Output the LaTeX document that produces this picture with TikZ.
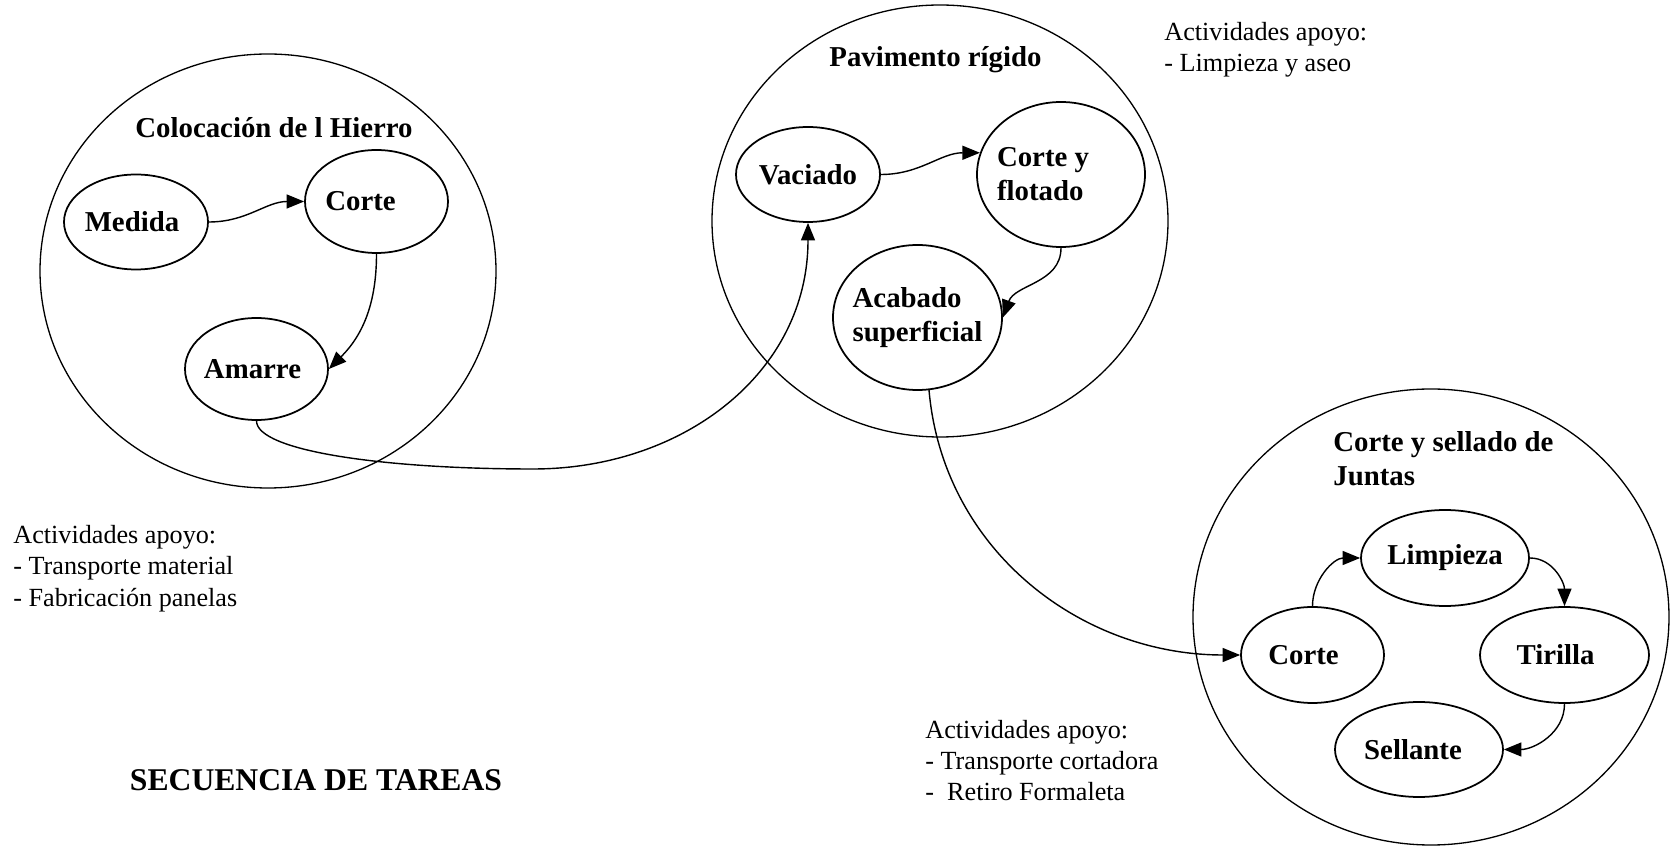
\documentclass[tikz,border=0pt]{standalone}
\usepackage{fontspec}
\setmainfont{Liberation Serif}
\usetikzlibrary{shapes.geometric,arrows.meta}

\newcommand{\tbold}{\fontsize{16.4}{19.3}\selectfont\bfseries}
\newcommand{\tnota}{\fontsize{14.9}{17.9}\selectfont}
\newcommand{\ttitulo}{\fontsize{18}{21}\selectfont\bfseries}

\begin{document}
\begin{tikzpicture}
    [ grupo/.style={ellipse, draw, line width=0.75pt, inner sep=0pt},
      tarea/.style 2 args={ellipse, draw, line width=1pt, inner sep=0pt, minimum width=#1, minimum height=#2},
      txt/.style={font=\tbold, align=left, inner sep=0pt},
      nota/.style={font=\tnota, align=left, inner sep=0pt, anchor=west},
      flecha/.style={-{Triangle[length=10pt,width=8pt]}, line width=0.8pt} ]

    \useasboundingbox (0,0) rectangle (33.42,16.94);

    % grupos
    \node[grupo, minimum width=9.12cm, minimum height=8.68cm] (hierro) at (5.36,11.52) {};
    \node[grupo, minimum width=9.12cm, minimum height=8.64cm] (pavimento) at (18.80,12.52) {};
    \node[grupo, minimum width=9.52cm, minimum height=9.12cm] (juntas) at (28.62,4.60) {};

    \node[txt, anchor=base] (thierro) at (5.48,14.18) {Colocación de l Hierro};
    \node[txt, anchor=base] (tpavimento) at (18.71,15.60) {Pavimento rígido};
    \node[txt, anchor=west] (tjuntas) at (26.66,7.76) {Corte y sellado de\\Juntas};

    % tareas
    \node[tarea={2.88cm}{1.90cm}, label={[txt, xshift=-0.08cm]center:Medida}] (medida) at (2.72,12.50) {};
    \node[tarea={2.86cm}{2.06cm}, label={[txt, xshift=-0.32cm]center:Corte}] (corte) at (7.53,12.91) {};
    \node[tarea={2.86cm}{2.04cm}, label={[txt, xshift=-0.08cm]center:Amarre}] (amarre) at (5.13,9.56) {};

    \node[tarea={2.88cm}{1.90cm}, label={[txt]center:Vaciado}] (vaciado) at (16.16,13.45) {};
    \node[tarea={3.36cm}{2.90cm}, label={[txt, xshift=-0.36cm]center:{Corte y\\flotado}}] (flotado) at (21.22,13.45) {};
    \node[tarea={3.38cm}{2.90cm}, label={[txt]center:{Acabado\\superficial}}] (acabado) at (18.35,10.59) {};

    \node[tarea={3.36cm}{1.92cm}, label={[txt]center:Limpieza}] (limpieza) at (28.90,5.78) {};
    \node[tarea={2.86cm}{1.92cm}, label={[txt, xshift=-0.18cm]center:Corte}] (cortej) at (26.25,3.84) {};
    \node[tarea={3.38cm}{1.92cm}, label={[txt, xshift=-0.18cm]center:Tirilla}] (tirilla) at (31.29,3.84) {};
    \node[tarea={3.36cm}{1.90cm}, label={[txt, xshift=-0.12cm]center:Sellante}] (sellante) at (28.38,1.95) {};

    % flechas
    \draw[flecha] (medida.east) to[out=0,in=180] (corte.west);
    \draw[flecha] (corte.south) to[out=-90,in=45] (amarre.east);

    \coordinate (bajo) at (10.66,7.56);
    \draw[flecha] (amarre.south) .. controls +(0,-0.6) and +(-3,0) .. (bajo)
                                 .. controls +(3,0) and +(0,-3) .. (vaciado.south);

    \draw[flecha] (vaciado.east) to[out=0,in=180] (flotado.165);
    \draw[flecha] (flotado.south) to[out=-90,in=70] (acabado.east);
    \draw[flecha] (acabado.-81) to[out=-85,in=180] (cortej.west);

    \draw[flecha] (cortej.north) to[out=90,in=180] (limpieza.west);
    \draw[flecha] (limpieza.east) to[out=0,in=90] (tirilla.north);
    \draw[flecha] (tirilla.south) to[out=-90,in=0] (sellante.east);

    % actividades de apoyo
    \node[nota] (apoyo1) at (23.28,15.95) {Actividades apoyo:\\- Limpieza y aseo};
    \node[nota] (apoyo2) at (0.26,5.57) {Actividades apoyo:\\- Transporte material\\- Fabricación panelas};
    \node[nota] (apoyo3) at (18.50,1.73) {Actividades apoyo:\\- Transporte cortadora\\- \ Retiro Formaleta};

    \node[font=\ttitulo, anchor=base] (titulo) at (6.32,1.14) {SECUENCIA DE TAREAS};

\end{tikzpicture}
\end{document}
